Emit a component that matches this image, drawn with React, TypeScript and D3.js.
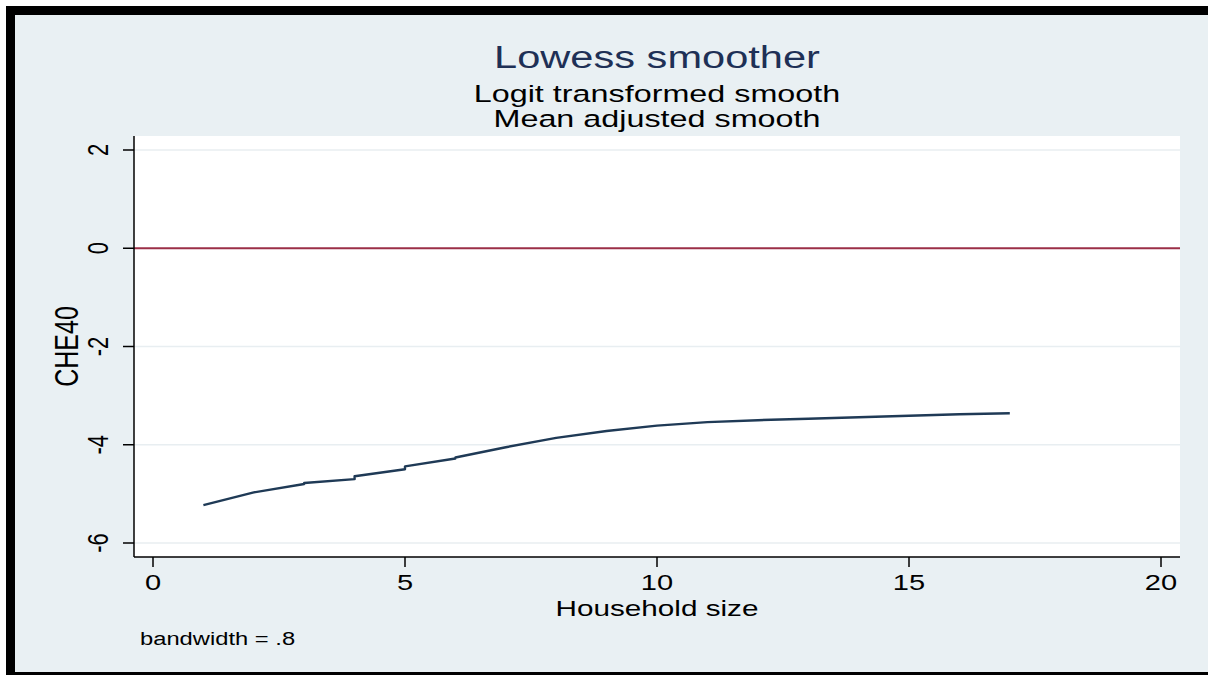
import React from "react";
import * as d3 from "d3";

const householdSize = [1, 2, 3, 3, 4, 4, 5, 5, 6, 6, 7, 8, 9, 10, 11, 12, 13, 14, 15, 16, 17];
const che40Smooth = [-5.23, -4.97, -4.8, -4.78, -4.7, -4.64, -4.5, -4.44, -4.28, -4.26, -4.05, -3.86, -3.72, -3.61, -3.54, -3.5, -3.47, -3.44, -3.41, -3.38, -3.36];
const xTicks = [0, 5, 10, 15, 20];
const yTicks = [2, 0, -2, -4, -6];
const referenceLine = 0;
const titleText = "Lowess smoother";
const subtitleLines = ["Logit transformed smooth", "Mean adjusted smooth"];
const xTitle = "Household size";
const yTitle = "CHE40";
const noteText = "bandwidth = .8";

const W = 1208;
const H = 675;
const SX = 1.32;
const FONT = "'Liberation Sans', Arial, Helvetica, sans-serif";
const BG = "#e9f0f3";

const plot = { left: 134, right: 1180, top: 136, bottom: 557 };

export default function App() {
  const x = d3.scaleLinear().domain([0, 20]).range([153, 1161]);
  const y = d3.scaleLinear().domain([-6, 2]).range([543, 150]);
  const pts: [number, number][] = householdSize.map((h, i) => [h, che40Smooth[i]]);
  const line = d3
    .line<[number, number]>()
    .x((d) => x(d[0]))
    .y((d) => y(d[1]));
  const cx = (plot.left + plot.right) / 2;
  const cy = (plot.top + plot.bottom) / 2;

  const T = (
    tx: number,
    ty: number,
    txt: string,
    size: number,
    opts: { anchor?: string; rotate?: boolean; fill?: string } = {}
  ) => (
    <text
      transform={`translate(${tx},${ty}) scale(${SX},1)${opts.rotate ? " rotate(-90)" : ""}`}
      textAnchor={opts.anchor ?? "middle"}
      fontFamily={FONT}
      fontSize={size}
      fill={opts.fill ?? "#000"}
    >
      {txt}
    </text>
  );

  return (
    <svg
      width={W}
      height={H}
      style={{ position: "absolute", left: 0, top: 0, display: "block" }}
    >
      <rect x={0} y={0} width={W} height={H} fill="#fff" />
      <rect x={6} y={6} width={W - 6} height={H - 6} fill="#000" />
      <rect x={15} y={15} width={W - 15} height={672 - 15} fill={BG} />

      {/* plot region */}
      <rect
        x={plot.left}
        y={plot.top}
        width={plot.right - plot.left}
        height={plot.bottom - plot.top}
        fill="#fff"
      />
      {yTicks
        .filter((t) => t !== referenceLine)
        .map((t) => (
          <line
            key={"g" + t}
            x1={plot.left}
            x2={plot.right}
            y1={y(t)}
            y2={y(t)}
            stroke="#e8eef1"
            strokeWidth={1.6}
          />
        ))}
      <line
        x1={plot.left}
        x2={plot.right}
        y1={y(referenceLine)}
        y2={y(referenceLine)}
        stroke="#9b2f47"
        strokeWidth={2}
      />
      <path d={line(pts) ?? ""} fill="none" stroke="#1f3a56" strokeWidth={2.4} strokeLinejoin="round" />

      {/* axes */}
      <line x1={plot.left} x2={plot.left} y1={plot.top} y2={plot.bottom} stroke="#000" strokeWidth={1.5} />
      <line x1={plot.left} x2={plot.right} y1={plot.bottom} y2={plot.bottom} stroke="#000" strokeWidth={1.5} />
      {yTicks.map((t) => (
        <g key={"yt" + t}>
          <line x1={plot.left - 11} x2={plot.left} y1={y(t)} y2={y(t)} stroke="#000" strokeWidth={1.5} />
          {T(108, y(t), String(t), 22, { rotate: true })}
        </g>
      ))}
      {xTicks.map((t) => (
        <g key={"xt" + t}>
          <line x1={x(t)} x2={x(t)} y1={plot.bottom} y2={plot.bottom + 10} stroke="#000" strokeWidth={1.5} />
          {T(x(t), 590, String(t), 22)}
        </g>
      ))}

      {/* titles */}
      {T(cx, 616, xTitle, 22.5)}
      {T(78, cy, yTitle, 25, { rotate: true })}
      {T(cx, 68, titleText, 31.5, { fill: "#1e3056" })}
      {subtitleLines.map((s, i) => (
        <React.Fragment key={s}>{T(cx, 102 + i * 25, s, 24.5)}</React.Fragment>
      ))}
      {T(140, 645, noteText, 18, { anchor: "start" })}
    </svg>
  );
}
